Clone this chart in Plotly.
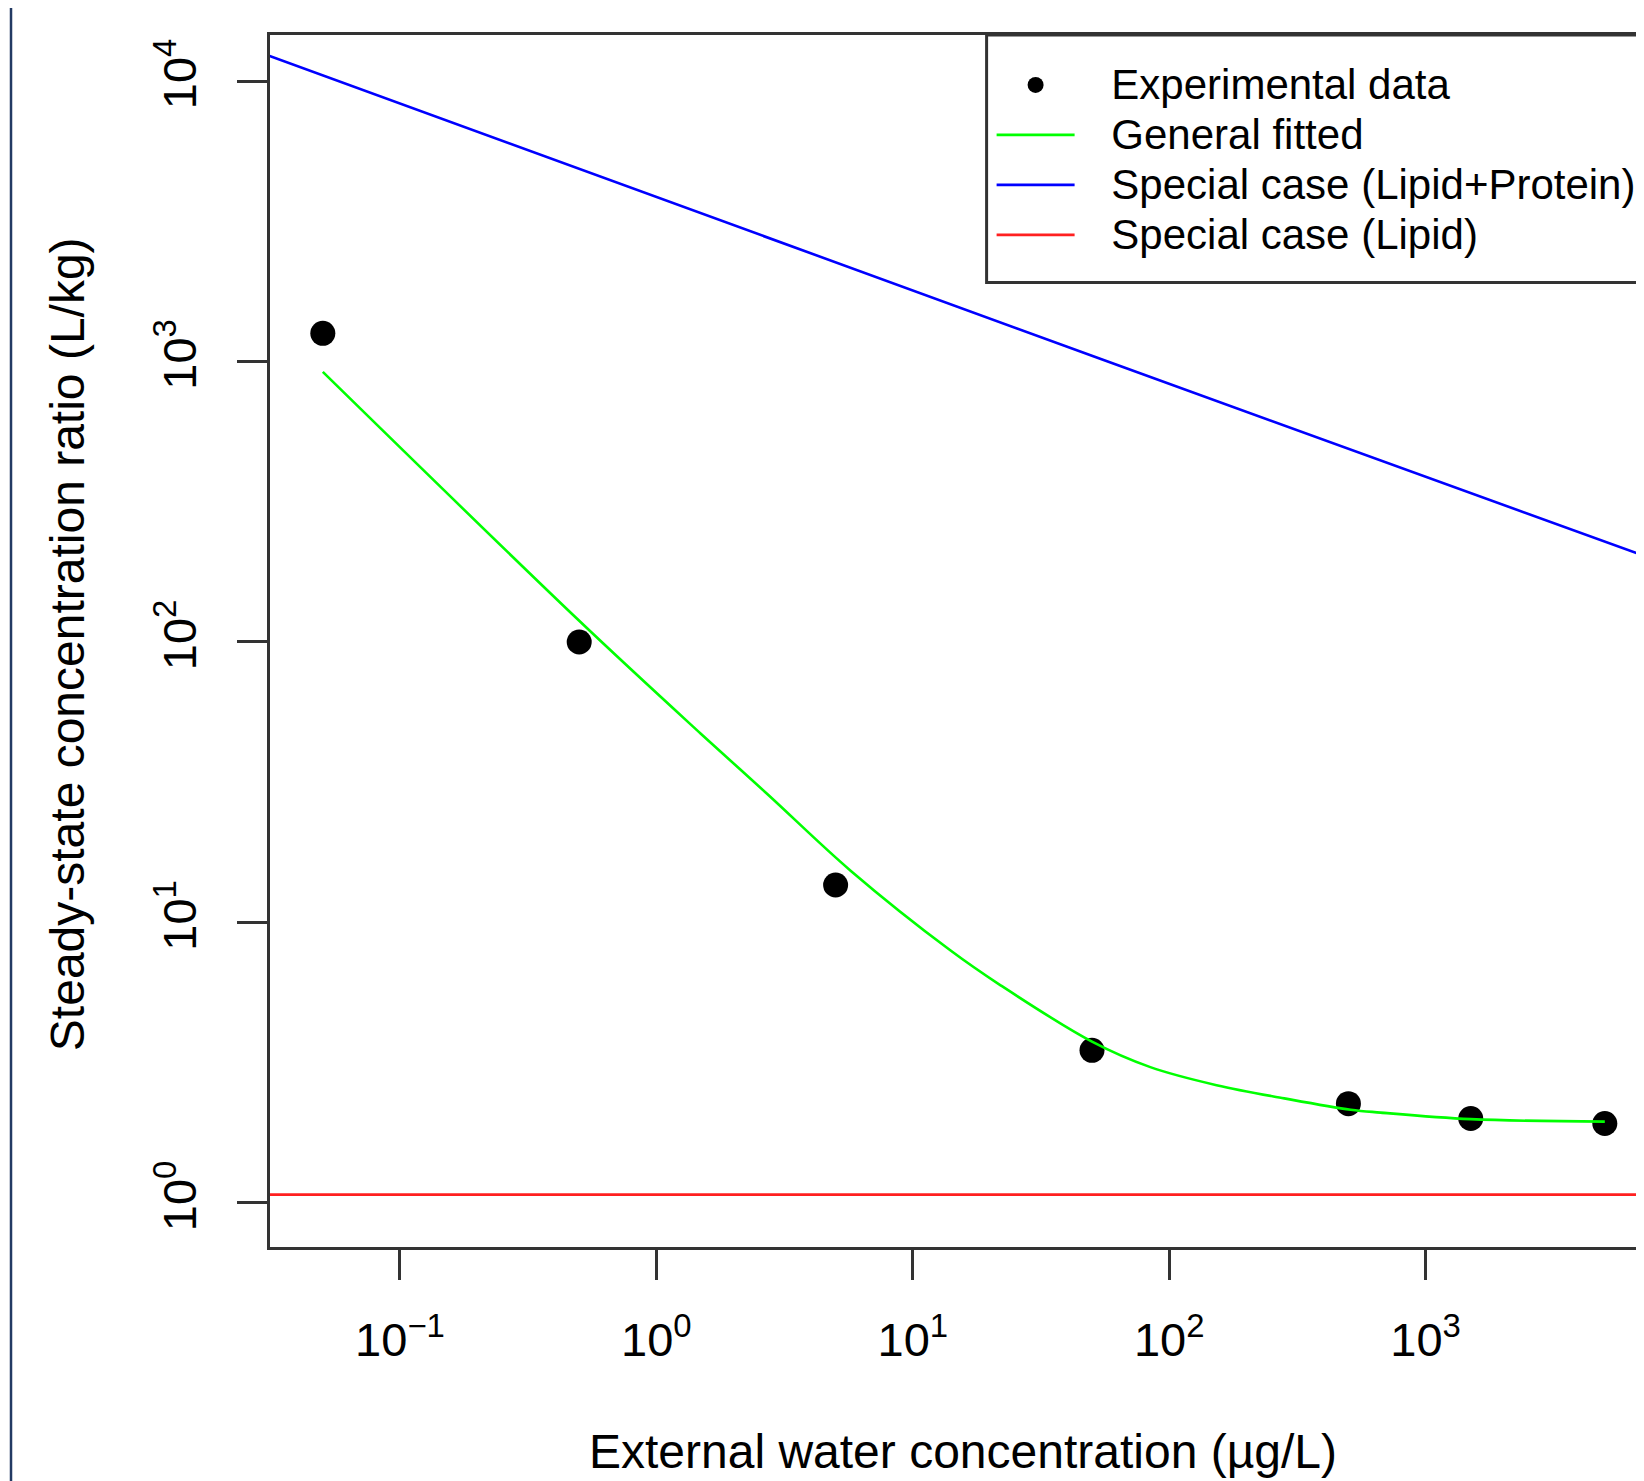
import plotly.graph_objects as go

# ---------------- data ----------------
x_obs = [0.05, 0.5, 5, 50, 500, 1500, 5000]
y_obs = [1260, 100, 13.6, 3.50, 2.26, 2.00, 1.92]

x_fit = [0.05, 0.5, 1.49, 2.72, 5.72, 14.0, 22.0, 50, 84.4, 153, 281, 510, 668, 1500, 5000]
y_fit = [918, 119, 47.1, 28.6, 15.3, 7.96, 5.97, 3.76, 3.05, 2.63, 2.36, 2.15, 2.10, 1.99, 1.95]

x_lp = [0.031, 53.8, 8000]
y_lp = [12270, 1023, 195]

x_lipid = [0.03, 8000]
y_lipid = [1.07, 1.07]

x_tickvals = [0.1, 1, 10, 100, 1000]
x_ticktext = ["10<sup>\u22121</sup>", "10<sup>0</sup>", "10<sup>1</sup>",
              "10<sup>2</sup>", "10<sup>3</sup>"]
y_tickvals = [1, 10, 100, 1000, 10000]
y_ticktext = ["10<sup>0</sup>", "10<sup>1</sup>", "10<sup>2</sup>",
              "10<sup>3</sup>", "10<sup>4</sup>"]

names = ["Experimental data", "General fitted",
         "Special case (Lipid+Protein)", "Special case (Lipid)"]
x_title = "External water concentration (\u00b5g/L)"
y_title = "Steady-state concentration ratio (L/kg)"

FONT = "Liberation Sans, Arial, sans-serif"
W, H = 1644, 1481
OFF = 8  # page body margin
ML, MT, MB, MR = 270 - OFF, 34.6 - OFF, H - (1246.7 - OFF), 0
PW = W - ML - MR
PH = H - MT - MB
XPX_PER_DEC = 256.4
X0 = -1.507
X1 = X0 + PW / XPX_PER_DEC


def px_x(px):
    return (px - OFF - ML) / PW


def px_y(py):
    return (MT + PH - (py - OFF)) / PH


def leg(name):
    return '<span style="font-size:42px">\u00a0\u00a0\u2009' + name + '</span>'


fig = go.Figure()
fig.add_trace(go.Scatter(x=x_obs, y=y_obs, mode="markers", name=leg(names[0]),
                         marker=dict(color="black", size=25)))
fig.add_trace(go.Scatter(x=x_fit, y=y_fit, mode="lines", name=leg(names[1]),
                         line=dict(color="#00ff00", width=2.6, shape="spline", smoothing=1.0)))
fig.add_trace(go.Scatter(x=x_lp, y=y_lp, mode="lines", name=leg(names[2]),
                         line=dict(color="#0000ff", width=2.6)))
fig.add_trace(go.Scatter(x=x_lipid, y=y_lipid, mode="lines", name=leg(names[3]),
                         line=dict(color="#ff2020", width=2.8)))

axis_common = dict(showgrid=False, zeroline=False, showline=True, linecolor="#333333",
                   linewidth=3, ticks="outside", ticklen=30, tickwidth=2.5,
                   tickcolor="#333333", tickfont=dict(family=FONT, size=47, color="black"))

fig.update_xaxes(type="log", range=[X0, X1], mirror=True,
                 tickvals=x_tickvals, ticktext=x_ticktext, ticklabelstandoff=20,
                 **axis_common)
fig.update_yaxes(type="log", range=[-0.157, 4.164], mirror=False,
                 tickvals=y_tickvals, ticktext=y_ticktext, tickangle=-90,
                 ticklabelstandoff=22, **axis_common)

fig.update_layout(
    width=W, height=H,
    margin=dict(l=ML, r=MR, t=MT, b=MB, pad=0),
    paper_bgcolor="white", plot_bgcolor="white",
    font=dict(family=FONT, color="black"),
    showlegend=True,
    legend=dict(x=px_x(991.6), y=px_y(54.5), xanchor="left", yanchor="top",
                bgcolor="rgba(0,0,0,0)", borderwidth=0,
                font=dict(family=FONT, size=36.15, color="black"),
                itemwidth=78, tracegroupgap=0),
    annotations=[
        dict(text=x_title, xref="paper", yref="paper",
             x=px_x(962.5), y=px_y(1451),
             xanchor="center", yanchor="middle", showarrow=False,
             font=dict(family=FONT, size=48, color="black")),
        dict(text=y_title, xref="paper", yref="paper", textangle=-90,
             x=px_x(67), y=px_y(643.8),
             xanchor="center", yanchor="middle", showarrow=False,
             font=dict(family=FONT, size=48, color="black")),
    ],
    shapes=[
        dict(type="line", xref="paper", yref="paper",
             x0=px_x(11), x1=px_x(11), y0=-1, y1=2,
             line=dict(color="#233a63", width=2.5)),
        # legend frame (right side lies beyond the visible area, as in the reference)
        dict(type="rect", xref="paper", yref="paper", layer="below",
             x0=px_x(986.6), x1=px_x(1720), y0=px_y(282), y1=px_y(34.6),
             fillcolor="white", line=dict(color="#333333", width=3)),
    ],
)

fig.write_html("out.html")
